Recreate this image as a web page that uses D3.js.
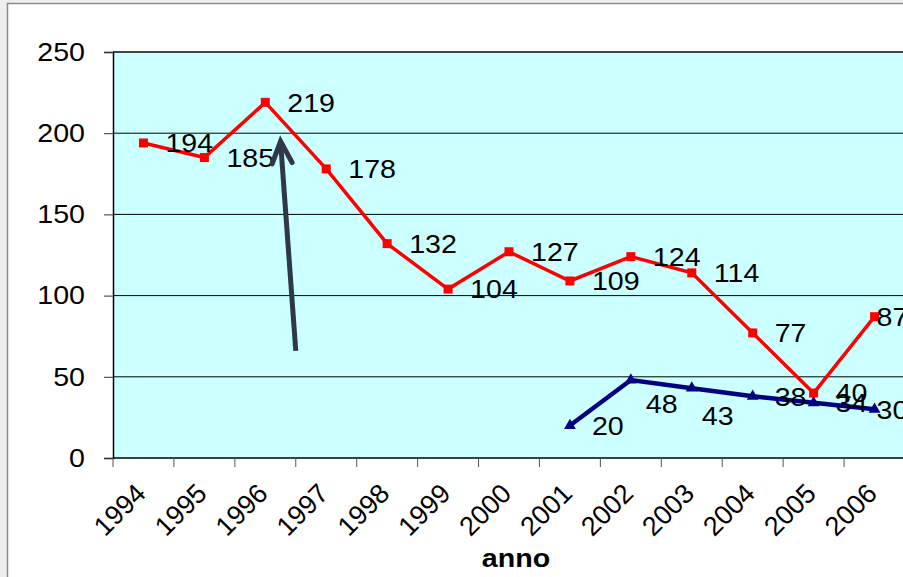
<!DOCTYPE html>
<html>
<head>
<meta charset="utf-8">
<script src="https://cdn.jsdelivr.net/npm/d3@7"></script>
<style>
  body { margin: 0; background: #efefef; }
  svg { display: block; }
  text { font-family: "Liberation Sans", Arial, sans-serif; fill: #000; }
</style>
</head>
<body>
<div id="chart"></div>
<script>
// data
var years = ["1994","1995","1996","1997","1998","1999","2000","2001","2002","2003","2004","2005","2006"];
var redValues = [194,185,219,178,132,104,127,109,124,114,77,40,87];
var blueYears = ["2001","2002","2003","2004","2005","2006"];
var blueValues = [20,48,43,38,34,30];
var yTicks = [0,50,100,150,200,250];
var xTitle = "anno";

var width = 903,
    height = 577;

// the picture is a bit wider than tall, so text is stretched a little
var stretch = 1.1;

var svg = d3.select('#chart').append('svg')
    .attr('width', width)
    .attr('height', height);

// frame
svg.append('rect')
    .attr('x', 7.5).attr('y', 3.5)
    .attr('width', width + 10).attr('height', height + 10)
    .attr('fill', '#fff')
    .attr('stroke', '#8a8a8a')
    .attr('stroke-width', 1.5);

// scales
let x = d3.scaleBand().domain(years).range([113, 905]);
let y = d3.scaleLinear().domain([0, 250]).range([458, 52]);
let cx = d => x(d) + x.bandwidth() / 2;

var plot = svg.append('g');

plot.append('rect')
    .attr('x', x.range()[0]).attr('y', y(250))
    .attr('width', x.range()[1] - x.range()[0])
    .attr('height', y(0) - y(250))
    .attr('fill', '#ccffff');

// gridlines
plot.selectAll('.grid').data(yTicks.filter(d => d > 0 && d < 250)).enter()
  .append('line')
    .attr('class', 'grid')
    .attr('x1', x.range()[0]).attr('x2', x.range()[1])
    .attr('y1', d => y(d)).attr('y2', d => y(d))
    .attr('stroke', '#000')
    .attr('stroke-width', 1);

plot.append('line')
    .attr('x1', x.range()[0]).attr('x2', x.range()[1])
    .attr('y1', y(250)).attr('y2', y(250))
    .attr('stroke', '#444')
    .attr('stroke-width', 2);

// y axis
var yAxis = svg.append('g')
    .attr('transform', 'translate(' + x.range()[0] + ',0)')
    .call(d3.axisLeft(y).tickValues(yTicks).tickSize(9).tickPadding(19));
yAxis.select('.domain').attr('stroke', '#000').attr('stroke-width', 1.5);
yAxis.selectAll('.tick line').attr('stroke', '#333');
yAxis.selectAll('.tick text')
    .attr('font-size', 26)
    .attr('font-family', '"Liberation Sans", Arial, sans-serif')
    .attr('x', -28 / stretch)
    .attr('transform', 'scale(' + stretch + ',1)');

// x axis: ticks sit on the category boundaries
var bounds = years.map(d => x(d)).concat([x.range()[1]]);
svg.append('line')
    .attr('x1', x.range()[0]).attr('x2', x.range()[1])
    .attr('y1', y(0)).attr('y2', y(0))
    .attr('stroke', '#000').attr('stroke-width', 1.5);
svg.selectAll('.xtick').data(bounds).enter()
  .append('line')
    .attr('class', 'xtick')
    .attr('x1', d => d).attr('x2', d => d)
    .attr('y1', y(0)).attr('y2', y(0) + 9)
    .attr('stroke', '#555');
svg.selectAll('.xlabel').data(years).enter()
  .append('text')
    .attr('class', 'xlabel')
    .attr('font-size', 27)
    .attr('text-anchor', 'end')
    .attr('transform', d => 'translate(' + (cx(d) + 4) + ',' + (y(0) + 37) + ') rotate(-45)')
    .text(d => d);

svg.append('text')
    .attr('font-size', 26)
    .attr('font-weight', 'bold')
    .attr('text-anchor', 'middle')
    .attr('transform', 'translate(516,567) scale(' + stretch + ',1)')
    .text(xTitle);

// red series
var red = years.map((d, i) => ({year: d, value: redValues[i]}));
var line = d3.line().x(d => cx(d.year)).y(d => y(d.value));

plot.append('path')
    .datum(red)
    .attr('d', line)
    .attr('fill', 'none')
    .attr('stroke', '#ff0000')
    .attr('stroke-width', 3.5)
    .attr('stroke-linejoin', 'miter');
plot.selectAll('.redMark').data(red).enter()
  .append('rect')
    .attr('class', 'redMark')
    .attr('x', d => cx(d.year) - 4.5)
    .attr('y', d => y(d.value) - 4.5)
    .attr('width', 9).attr('height', 9)
    .attr('fill', '#ff0000');

// blue series
var blue = blueYears.map((d, i) => ({year: d, value: blueValues[i]}));
plot.append('path')
    .datum(blue)
    .attr('d', line)
    .attr('fill', 'none')
    .attr('stroke', '#000080')
    .attr('stroke-width', 4.5);
plot.selectAll('.blueMark').data(blue).enter()
  .append('path')
    .attr('class', 'blueMark')
    .attr('d', d3.symbol().type(d3.symbolTriangle).size(60))
    .attr('transform', d => 'translate(' + cx(d.year) + ',' + y(d.value) + ')')
    .attr('fill', '#000080');

// labels: to the right of the point; a few were moved by hand in the original
var nudge = {
  "blue2002": [-7, 24],
  "blue2003": [-12, 27]
};
function addLabels(data, key) {
  plot.selectAll('.lab' + key).data(data).enter()
    .append('text')
      .attr('class', 'lab' + key)
      .attr('font-size', 26)
      .attr('dy', '0.36em')
      .attr('transform', d => {
        let n = nudge[key + d.year] || [0, 0];
        let dx = d.year === years[years.length - 1] ? 2 : 22;
        return 'translate(' + (cx(d.year) + dx + n[0]) + ',' + (y(d.value) + n[1]) + ') scale(' + stretch + ',1)';
      })
      .text(d => d.value);
}
addLabels(red, 'red');
addLabels(blue, 'blue');

// arrow annotation (from between 1996/97 up toward the 1996 peak)
var arrowFrom = [x("1997"), y(66)],
    arrowTo = [x("1996") + x.bandwidth() * 0.75, y(195)];
let ax = arrowTo[0] - arrowFrom[0], ay = arrowTo[1] - arrowFrom[1];
let len = Math.sqrt(ax * ax + ay * ay);
let ux = ax / len, uy = ay / len;
let bx = arrowTo[0] - ux * 22, by = arrowTo[1] - uy * 22;
svg.append('line')
    .attr('x1', arrowFrom[0]).attr('y1', arrowFrom[1])
    .attr('x2', arrowTo[0]).attr('y2', arrowTo[1])
    .attr('stroke', '#2e3848').attr('stroke-width', 5);
svg.append('path')
    .attr('d', 'M' + (bx - uy * 10) + ',' + (by + ux * 10) +
               'L' + arrowTo[0] + ',' + arrowTo[1] +
               'L' + (bx + uy * 10) + ',' + (by - ux * 10))
    .attr('fill', 'none')
    .attr('stroke', '#2e3848').attr('stroke-width', 5)
    .attr('stroke-linecap', 'round').attr('stroke-linejoin', 'miter');
</script>
</body>
</html>
